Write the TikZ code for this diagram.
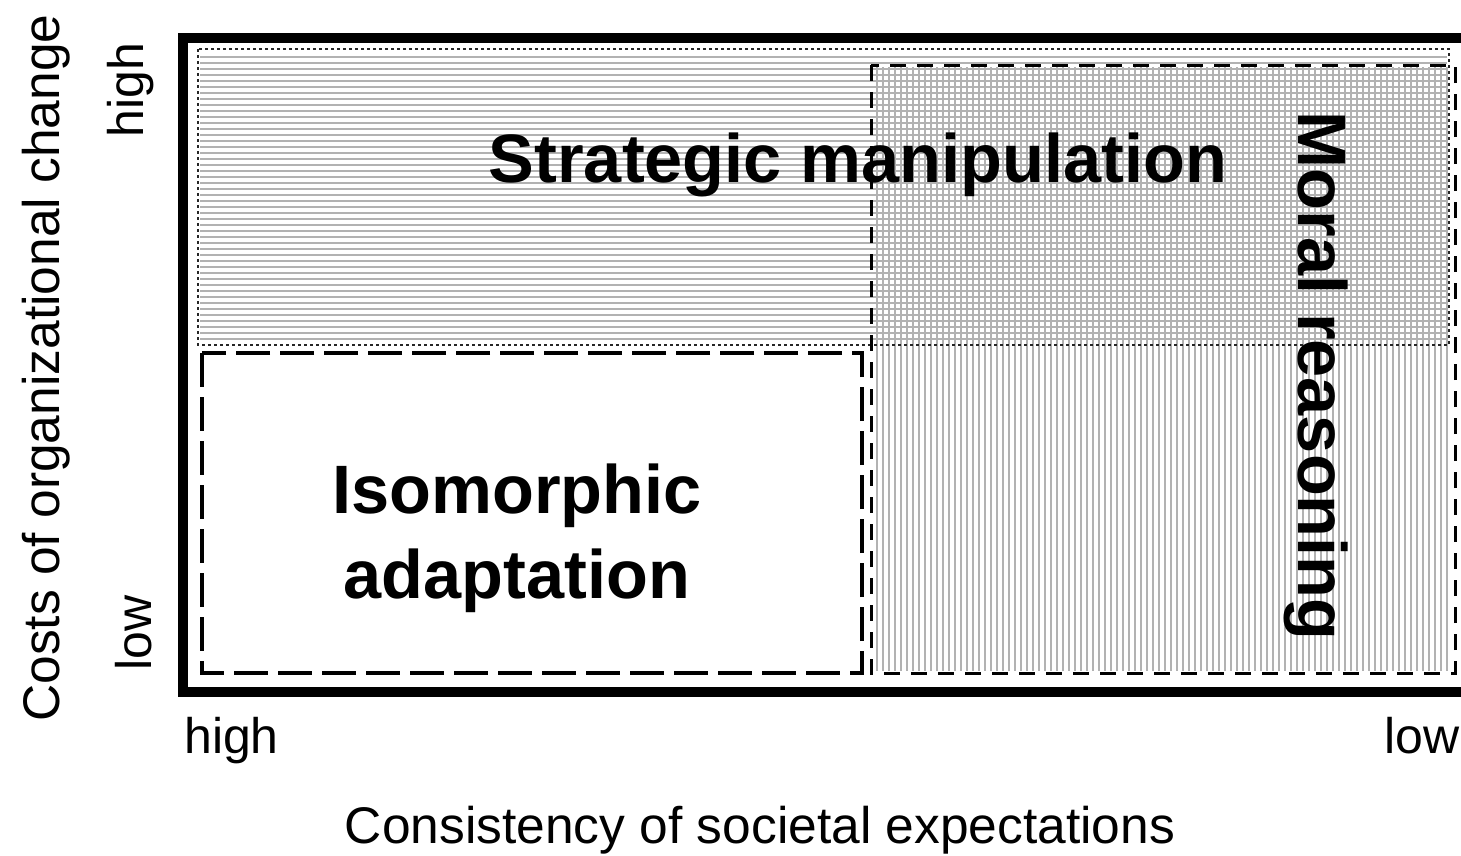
\documentclass[tikz,border=0pt]{standalone}
\usepackage{fontspec}
\setmainfont{Liberation Sans}
\begin{document}
\begin{tikzpicture}[x=1pt,y=-1pt,
  hatch/.style={gray!60, line width=2.6pt},
  frame/.style={line width=10pt, black},
  dotborder/.style={line width=2.8pt, dash pattern=on 3pt off 3pt, black!85},
  moralborder/.style={line width=3pt, dash pattern=on 16pt off 11pt, black},
  isoborder/.style={line width=3.5pt, dash pattern=on 34pt off 10pt, black},
  bigtxt/.style={font=\fontsize{68.5}{80}\selectfont\bfseries, inner sep=0pt, anchor=base},
  axtxt/.style={font=\fontsize{51.5}{60}\selectfont, inner sep=0pt, anchor=base},
  ticktxt/.style={font=\fontsize{50}{60}\selectfont, inner sep=0pt}]
\useasboundingbox (0,0) rectangle (1461,855);
\begin{scope}
\clip (0,0) rectangle (1461,855);
% region corners
\coordinate (smNW) at (198,49);
\coordinate (smSE) at (1449,345);
\coordinate (mrNW) at (871,65);
\coordinate (mrSE) at (1455,673);
\coordinate (iaNW) at (202,353);
\coordinate (iaSE) at (862,673);
% hatching
\foreach \y in {57,63,...,340} \draw[hatch] (200,\y) -- (1447,\y);
\foreach \x in {877,883,...,1451} \draw[hatch] (\x,67) -- (\x,671);
% borders
\draw[dotborder] (smNW) rectangle (smSE);
\draw[moralborder] (mrNW) rectangle (mrSE);
\draw[isoborder] (iaNW) rectangle (iaSE);
% outer frame
\draw[frame] (183,38) rectangle (1490,692);
% labels
\node[bigtxt] (sm) at (858,182) {Strategic manipulation};
\node[bigtxt] (ia1) at (517,513) {Isomorphic};
\node[bigtxt] (ia2) at (517,598) {adaptation};
\node[bigtxt, rotate=-90] (mr) at (1298,376) {Moral reasoning};
% axes
\node[axtxt, rotate=90] (yl) at (59,368) {Costs of organizational change};
\node[axtxt] (xl) at (760,843) {Consistency of societal expectations};
\node[ticktxt, anchor=base, rotate=90] (yh) at (143,90) {high};
\node[ticktxt, anchor=base, rotate=90] (ylo) at (151,633) {low};
\node[ticktxt, anchor=base west] (xh) at (184,753) {high};
\node[ticktxt, anchor=base west] (xlo) at (1384,753) {low};
\end{scope}
\end{tikzpicture}
\end{document}
